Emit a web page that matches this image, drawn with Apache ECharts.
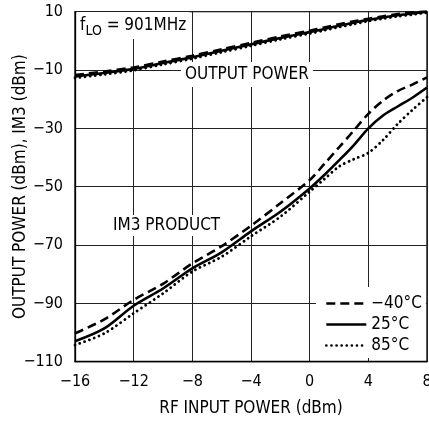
<!DOCTYPE html>
<html><head><meta charset="utf-8">
<script src="https://cdn.jsdelivr.net/npm/echarts@6/dist/echarts.min.js"></script>
<style>html,body{margin:0;padding:0;background:#fff}#c{width:429px;height:421px}</style>
</head><body><div id="c"></div>
<script>
const FONT = "'DejaVu Sans Condensed','Liberation Sans',sans-serif";
const xIn = [-16,-14,-12,-10,-8,-6,-4,-2,0,1,2,3,4,5,6,7,8];
const xTicks = [-16,-12,-8,-4,0,4,8];
const yTicks = [-110,-90,-70,-50,-30,-10,10];
const seriesNames = ['\u221240\u00B0C','25\u00B0C','85\u00B0C'];
const poutM40 = [-11.7,-10.5,-9.1,-7.1,-5.1,-2.9,-0.7,1.5,3.5,4.6,5.7,6.7,7.6,8.4,9.2,9.8,10.2];
const pout25  = [-12.2,-11.0,-9.6,-7.6,-5.6,-3.4,-1.2,1.0,3.0,4.1,5.2,6.2,7.2,8.0,8.8,9.4,10.0];
const pout85  = [-12.7,-11.5,-10.1,-8.1,-6.1,-3.9,-1.7,0.5,2.5,3.6,4.7,5.7,6.8,7.6,8.4,9.0,9.7];
const im3M40 = [-100.3,-95.5,-88.8,-83.3,-76.3,-70.4,-63.4,-55.7,-47.7,-42.2,-36.5,-30.8,-25,-20.5,-17.2,-15,-12.5];
const im3_25 = [-103,-98.6,-90.8,-84.9,-78,-72.5,-65.3,-58.6,-50.6,-46,-41,-35.8,-30,-25.6,-22.5,-19.5,-16];
const im3_85 = [-104.3,-100.3,-93.4,-86.6,-79.1,-74,-67,-60.3,-51.7,-47.4,-43.1,-40.6,-38.4,-34,-28.5,-23.7,-19.3];

const styles = [
  {type:[9,5], width:2.6, cap:'butt'},
  {type:'solid', width:2.6, cap:'butt'},
  {type:[0.1,5], width:2.8, cap:'round'}
];
function mk(name, ys, st){
  return {name:name, type:'line', data:xIn.map((x,i)=>[x,ys[i]]), symbol:'none', smooth:0.3,
    lineStyle:{color:'#000', width:st.width, type:st.type, cap:st.cap}, itemStyle:{color:'#000'}};
}
const fmt = v => String(v).replace('-','\u2212');
const chart = echarts.init(document.getElementById('c'), null, {renderer:'canvas'});
chart.setOption({
  animation:false,
  textStyle:{fontFamily:FONT},
  grid:{left:75, top:11.7, width:352, height:350, show:true, borderColor:'#000', borderWidth:1.3, outerBoundsMode:'none', containLabel:false},
  xAxis:{type:'value', min:-16, max:8,
    name:'RF INPUT POWER (dBm)', nameLocation:'middle', nameGap:38, nameMoveOverlap:false,
    nameTextStyle:{fontFamily:FONT, fontSize:17, color:'#000'},
    axisLine:{show:true, onZero:false, lineStyle:{color:'#000', width:1.3}},
    axisTick:{show:false, customValues:xTicks},
    axisLabel:{fontFamily:FONT, fontSize:16, color:'#000', margin:12, customValues:xTicks, formatter:fmt},
    splitLine:{show:true, lineStyle:{color:'#222', width:1}}},
  yAxis:{type:'value', min:-110, max:10,
    name:'OUTPUT POWER (dBm), IM3 (dBm)', nameLocation:'middle', nameGap:46, nameMoveOverlap:false,
    nameTextStyle:{fontFamily:FONT, fontSize:17, color:'#000'},
    axisLine:{show:true, onZero:false, lineStyle:{color:'#000', width:1.3}},
    axisTick:{show:false, customValues:yTicks},
    axisLabel:{fontFamily:FONT, fontSize:16, color:'#000', margin:12, customValues:yTicks, formatter:fmt},
    splitLine:{show:true, lineStyle:{color:'#222', width:1}}},
  legend:{orient:'vertical', left:316, top:287, data:seriesNames, itemWidth:40, itemHeight:14, itemGap:4,
    padding:[8,4,4,9], backgroundColor:'#fff', textStyle:{fontFamily:FONT, fontSize:17, color:'#000'},
    itemStyle:{opacity:0}, lineStyle:{width:2.6}, selectedMode:false},
  graphic:[
    {type:'text', left:77, top:12, z:50, style:{text:'{a|f}{b|LO}{a| = 901MHz}', backgroundColor:'#fff', padding:[1,3,1,3],
      rich:{a:{fontFamily:FONT, fontSize:17, lineHeight:25, verticalAlign:'middle', fill:'#000'},
            b:{fontFamily:FONT, fontSize:14, lineHeight:14, verticalAlign:'bottom', fill:'#000'}}}},
    {type:'text', left:181, top:62, z:50, style:{text:'OUTPUT POWER', fontFamily:FONT, fontSize:17, fill:'#000', backgroundColor:'#fff', padding:[4,4,4,4]}},
    {type:'text', left:110, top:215, z:50, style:{text:'IM3 PRODUCT', fontFamily:FONT, fontSize:17, fill:'#000', backgroundColor:'#fff', padding:[2,3,2,3]}}
  ],
  series:[
    mk(seriesNames[0], im3M40, styles[0]),
    mk(seriesNames[1], im3_25, styles[1]),
    mk(seriesNames[2], im3_85, styles[2]),
    mk(seriesNames[0], poutM40, styles[0]),
    mk(seriesNames[1], pout25, styles[1]),
    mk(seriesNames[2], pout85, styles[2])
  ]
});
</script></body></html>
